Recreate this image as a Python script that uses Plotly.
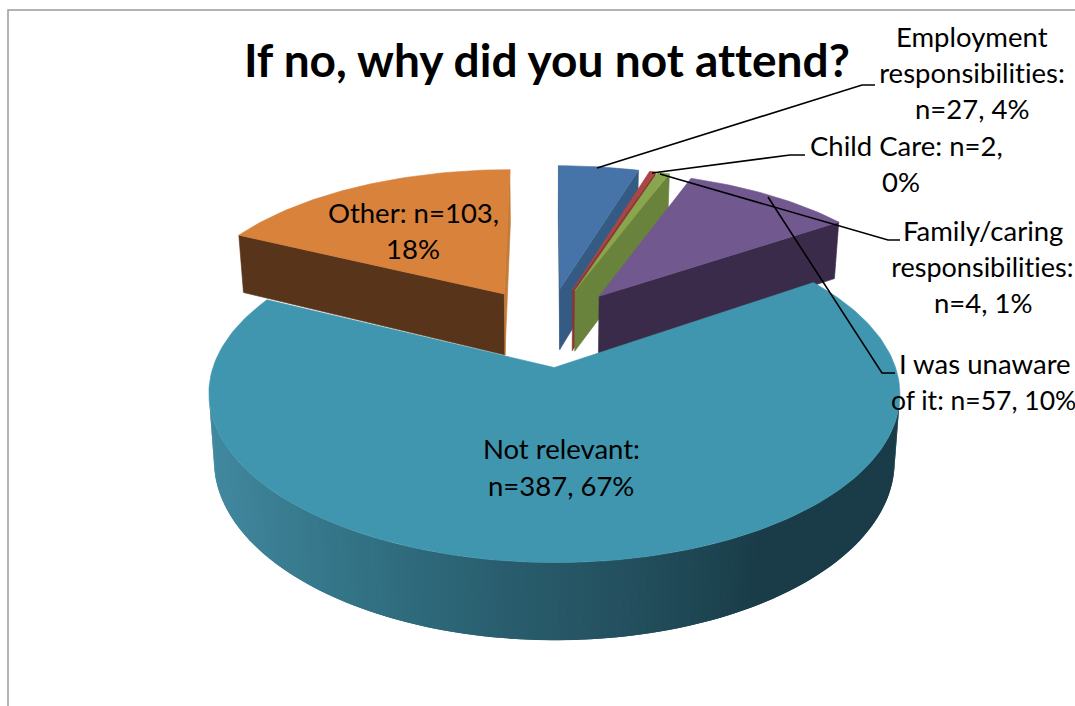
import numpy as np
import plotly.graph_objects as go

# Survey responses, in pie order starting from twelve o'clock
categories = ["Employment responsibilities", "Child Care", "Family/caring responsibilities",
              "I was unaware of it", "Not relevant", "Other"]
counts = [27, 2, 4, 57, 387, 103]
top_colors = ["#4674A8", "#AA4643", "#89A54E", "#71588F", "#4096AE", "#D8823C"]
wall_colors = ["#355A84", "#8A3533", "#6A833C", "#3B2B4B", "#2F6D80", "#57341A"]
end_wall_colors = ["#355A84", "#8A3533", "#6A833C", "#3B2B4B", "#2F6D80", "#C47B38"]

# Perspective model of the exploded pie
CX, CY = 548.0, 326.5
RADIUS, SQUASH = 328.0, 0.4635
DEPTH_K = 0.15
EXPLODE = 0.26
THICK = 63.0
BOTTOM_SHRINK = 0.985

# Shade of the large slice's rim, by screen x
rim_x = [205, 300, 400, 500, 600, 700, 760, 905]
rim_rgb = [(66, 137, 160), (56, 122, 142), (47, 108, 126), (41, 94, 110),
           (37, 83, 98), (30, 70, 83), (26, 60, 72), (26, 60, 72)]


def project(x, y):
    s = 1.0 / (1.0 + DEPTH_K * y)
    return CX + RADIUS * x * s, CY - RADIUS * SQUASH * y * s, s


def rim_color(x):
    channels = [np.interp(x, rim_x, [c[i] for c in rim_rgb]) for i in range(3)]
    return "rgb({:.0f},{:.0f},{:.0f})".format(*channels)


def polygon(xs, ys, color, edge=0.6):
    return go.Scatter(x=list(xs) + [xs[0]], y=list(ys) + [ys[0]], mode="lines",
                      fill="toself", fillcolor=color,
                      line=dict(color=color, width=edge),
                      hoverinfo="skip", showlegend=False)


def drop(p):
    # Lower edge of a wall below a top-surface point, converging toward the centre
    return CX + (p[0] - CX) * BOTTOM_SHRINK, p[1] + THICK * p[2]


def add_wall(fig, a, b, color, edge=0.6):
    # a, b are top-edge points; skip the wall when it faces away from the viewer
    a2, b2 = drop(a), drop(b)
    xs = [a[0], b[0], b2[0], a2[0]]
    ys = [a[1], b[1], b2[1], a2[1]]
    area = sum(xs[i] * ys[(i + 1) % 4] - xs[(i + 1) % 4] * ys[i] for i in range(4))
    if area > 0:
        return
    fig.add_trace(polygon(xs, ys, color, edge))


fractions = np.array(counts, dtype=float) / sum(counts)
edges = np.concatenate([[0.0], np.cumsum(fractions)]) * 2 * np.pi

fig = go.Figure()
draw_order = [5, 0, 1, 2, 3, 4]
for i in draw_order:
    start, end = edges[i], edges[i + 1]
    mid = (start + end) / 2
    ox, oy = EXPLODE * np.sin(mid), EXPLODE * np.cos(mid)
    angles = np.linspace(start, end, max(4, int((end - start) * 50)))
    arc = [project(ox + np.sin(t), oy + np.cos(t)) for t in angles]
    apex = project(ox, oy)
    outline = [apex] + arc

    # Traverse the slice boundary in one direction so wall facing can be tested
    add_wall(fig, apex, arc[0], wall_colors[i])
    add_wall(fig, arc[-1], apex, end_wall_colors[i])
    for j in range(len(arc) - 1):
        # Each rim band reaches into the next one so no seams show between them
        p, q = arc[j], arc[min(j + 2, len(arc) - 1)]
        if i == 4:
            add_wall(fig, p, q, rim_color((arc[j][0] + arc[j + 1][0]) / 2), edge=0)
        else:
            add_wall(fig, p, q, wall_colors[i])

    fig.add_trace(polygon([p[0] for p in outline], [p[1] for p in outline], top_colors[i]))

# Leader polylines from slices to their labels
leaders = [
    ([597, 862, 875], [168, 85, 85]),
    ([652, 790, 805], [173, 155, 155]),
    ([660, 888, 900], [174, 240, 240]),
    ([768, 882, 895], [197, 373, 373]),
]
for lx, ly in leaders:
    fig.add_trace(go.Scatter(x=lx, y=ly, mode="lines", line=dict(color="black", width=1.6),
                             hoverinfo="skip", showlegend=False))

# Chart frame along the top and left
fig.add_trace(go.Scatter(x=[8, 8, 1075], y=[706, 10, 10], mode="lines",
                         line=dict(color="#9a9a9a", width=1.5),
                         hoverinfo="skip", showlegend=False))

labels = [
    ("Employment", 972, 36.5, 27.5), ("responsibilities:", 972, 72.5, 27.5), ("n=27, 4%", 972, 108.5, 27.5),
    ("Child Care: n=2,", 906, 145.5, 27.5), ("0%", 901, 181.5, 27.5),
    ("Family/caring", 983, 230.5, 27.5), ("responsibilities:", 982, 266.5, 27), ("n=4, 1%", 983, 302.5, 27.5),
    ("I was unaware", 985, 363.5, 27.5), ("of it: n=57, 10%", 983, 399.5, 26.5),
    ("Other: n=103,", 413, 212.5, 27.5), ("18%", 413, 248.5, 27.5),
    ("Not relevant:", 561, 448.5, 27.5), ("n=387, 67%", 561, 485.5, 27.5),
]
for text, x, y, size in labels:
    fig.add_annotation(x=x, y=y, text=text, showarrow=False, xanchor="center", yanchor="middle",
                       font=dict(family="Lato", size=size, color="black"))
fig.add_annotation(x=547, y=59, text="<b>If no, why did you not attend?</b>", showarrow=False,
                   xanchor="center", yanchor="middle",
                   font=dict(family="Lato", size=46, color="black"))

fig.update_layout(
    width=1075, height=706, margin=dict(l=0, r=0, t=0, b=0),
    paper_bgcolor="white", plot_bgcolor="white", showlegend=False,
    xaxis=dict(range=[0, 1075], visible=False, fixedrange=True),
    yaxis=dict(range=[706, 0], visible=False, fixedrange=True),
)
# A tiny letter spacing keeps the browser from joining "ti" and "tt" into ligatures
no_ligatures = ("var s=document.createElement('style');"
                "s.textContent='svg text{font-variant-ligatures:none!important;letter-spacing:0.01px}';"
                "document.head.appendChild(s);")
fig.write_html("out.html", config=dict(displayModeBar=False), post_script=no_ligatures)
